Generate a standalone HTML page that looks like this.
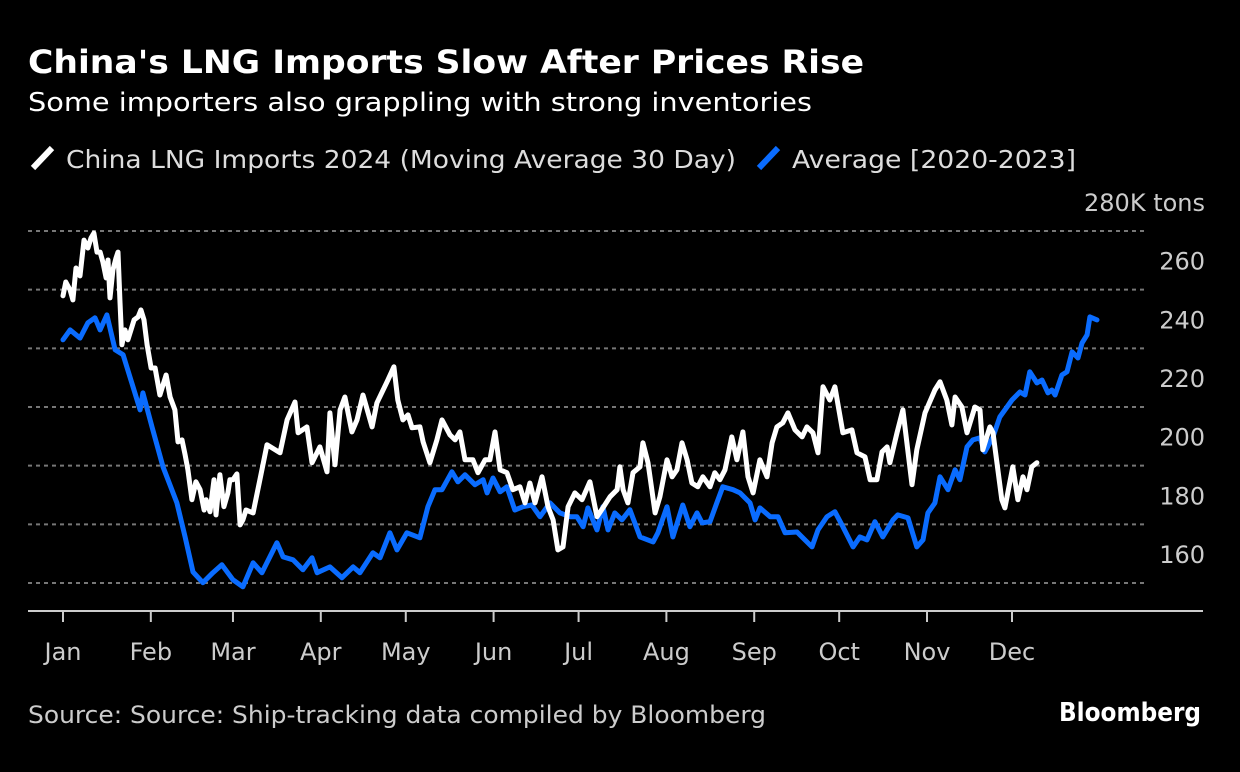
<!DOCTYPE html>
<html><head><meta charset="utf-8">
<style>
html,body{margin:0;padding:0;background:#000;}
svg{display:block;}
text{font-family:"DejaVu Sans","Liberation Sans",sans-serif;}
</style></head>
<body>
<svg id="chart" width="1240" height="772" viewBox="0 0 1240 772" xmlns="http://www.w3.org/2000/svg">
<rect x="0" y="0" width="1240" height="772" fill="#000"/>
<text x="28" y="73" fill="#fff" font-size="32" font-weight="bold" textLength="836" lengthAdjust="spacingAndGlyphs">China's LNG Imports Slow After Prices Rise</text>
<text x="28" y="111" fill="#fff" font-size="26" textLength="784" lengthAdjust="spacingAndGlyphs">Some importers also grappling with strong inventories</text>
<g>
<g>
<line x1="33" y1="168" x2="52" y2="148" stroke="#fff" stroke-width="6"/>
<text x="66" y="168" fill="#ddd" font-size="25" textLength="670" lengthAdjust="spacingAndGlyphs">China LNG Imports 2024 (Moving Average 30 Day)</text>
</g>
<g>
<line x1="759" y1="168" x2="778" y2="148" stroke="#0a6cff" stroke-width="6"/>
<text x="792" y="168" fill="#ddd" font-size="25" textLength="284" lengthAdjust="spacingAndGlyphs">Average [2020-2023]</text>
</g>
</g>
<g id="grid"></g>
<g id="ylabels"></g>
<g id="xaxis"></g>
<g id="series"></g>
<text x="28" y="723" fill="#ccc" font-size="24" textLength="738" lengthAdjust="spacingAndGlyphs">Source: Source: Ship-tracking data compiled by Bloomberg</text>
<text x="1201" y="721" fill="#fff" font-size="26" font-weight="bold" text-anchor="end" font-family="Liberation Sans, sans-serif" textLength="142" lengthAdjust="spacingAndGlyphs">Bloomberg</text>
</svg>
<script>
const yTicks = [160, 180, 200, 220, 240, 260, 280];
const yTickLabels = ["160", "180", "200", "220", "240", "260", "280K tons"];
const months = ["Jan","Feb","Mar","Apr","May","Jun","Jul","Aug","Sep","Oct","Nov","Dec"];
const monthStartDays = [0,31,60,91,121,152,182,213,244,274,305,335];
const days2024 = [0,1,2.5,3.5,4.6,6,7.4,8.8,9.9,10.9,12,13.1,14.1,15.2,15.9,16.6,17.6,18.7,19.4,20.1,20.8,21.9,22.9,24,25.1,26.5,27.5,28.6,29.7,31.1,32.5,34.2,35.3,36.4,37.8,39.5,40.6,42,43.1,44.1,45.5,46.9,48.4,49.8,50.5,51.9,53.3,54,55.4,56.8,58.2,58.9,60,61.4,62.5,63.5,64.6,67.1,69.5,72,76.6,79.1,81.9,83,86.1,87.9,90.7,93.2,94.2,96,97.8,99.5,102,103.8,105.9,109.1,110.8,113,114.7,116.8,118.2,120,121.8,123.2,126,127.1,129.5,132,133.8,136.6,138.4,140.1,141.9,144.7,146.5,149,150.7,152.5,154.3,156.7,158.8,161.3,163.1,164.8,166.6,169.1,171.2,173,174.7,176.5,178.3,180.7,183.2,186,188.5,190.6,193.1,195.6,196.6,197.7,199.4,201.2,203.7,204.7,206.5,209,210.7,213.2,215,216.7,218.5,220.3,222,224.1,225.9,228.4,230.1,231.9,233.7,236.1,237.9,240,241.8,243.6,246,248.5,250.3,252,254.1,255.9,258.4,260.9,262.6,264.7,266.5,268.3,270.7,272.5,275.3,278.5,280.3,283.1,284.9,287.3,289.1,290.9,291.9,294.4,296.5,299.7,301.4,304.3,307.8,309.6,312,313.8,314.9,317.3,319.1,321.9,323.7,324.7,327.2,328.3,331.4,332.5,335.3,337.1,338.9,340.3,342,343.8];
const values2024 = [257.9,262.6,259.9,256.5,267.4,264.7,276.9,274.2,277.6,279.3,272.8,272.8,269.4,264,270.1,257.2,266.7,270.8,272.8,256.5,241.2,246.3,242.9,246.3,249.7,250.7,253.1,249.7,241.2,233.3,233.3,224.1,227.5,230.9,223.4,219,208.1,208.8,203.7,198.6,188.4,194.5,191.8,184.9,188.4,184.3,195.2,183.2,196.9,186,190.7,195.2,195.2,197.2,179.8,181.5,184.9,183.9,195.2,207.1,204.4,215.6,221.7,211.2,213.2,201,206.4,197.9,218,200.3,219,223.4,211.5,215.6,224.1,213.2,221.4,225.8,229.2,233.7,222.4,215.6,217.3,212.9,213.2,208.1,201,208.8,215.6,210.5,208.8,211.5,202,202,197.6,202,202,211.5,198.6,197.6,191.8,192.8,187.3,194.1,187.3,196.2,186,181.5,171.3,172.3,186,190.7,188.4,194.5,182.6,185.6,189.4,191.8,199.6,191.8,187.3,197.6,199.6,207.8,201,183.9,189.4,202,196.2,198.6,207.8,202,194.1,192.8,196.2,192.8,197.6,195.2,198.6,209.8,202,211.5,196.2,190.7,202,196.2,207.8,213.2,214.6,218,212.2,209.8,213.2,211.2,204.4,226.9,222.4,226.9,211.2,212.2,204.4,203,195.2,195.2,204.7,206.4,201,211.2,219,193.5,205.4,218,225.8,228.6,222.4,213.9,223.4,220,211.2,220,219,205.4,213.2,211.2,188.4,185.6,199.6,188.4,196.2,191.8,199.6,201];
const daysAvg = [0,2.5,6,8.8,11.3,13.1,15.5,18.4,21.2,24.7,27.2,28.2,31.4,35.3,40.2,43.1,45.9,49.4,52.9,56.1,60,63.5,67.1,70.2,75.5,77.7,81.2,84.7,87.9,89.7,94.2,98.5,102.4,104.8,109.4,111.9,115.4,117.9,121.4,126,128.8,131.3,133.8,137.3,139.4,141.9,145.4,148.3,149.7,151.8,154.3,156.7,159.5,162.4,165.5,168.4,171.9,175.4,179,181.4,183.6,185.3,188.5,190.6,192.4,194.8,197.3,200.1,203.7,208.3,210,213.2,215.3,218.8,221.3,223.8,225.6,228.4,230.8,232.9,236.5,239,242.5,244.3,246,249.6,252.4,254.9,259.1,261.9,264.4,266.5,269.7,272.5,275.3,278.9,281.3,283.8,286.6,289.4,293,294.7,298.3,301.4,303.6,305.3,307.8,309.6,312.4,314.9,316.6,319.1,321.2,323.7,325.4,328.3,330.7,335,337.8,339.6,341.3,343.8,345.6,347.7,349.1,350.2,352.6,354.4,356.2,358.3,359.7,361.5,362.5,365];
const valuesAvg = [242.9,246.3,243.5,248.7,250.4,246.3,251.4,239.5,237.8,226.9,219,224.8,213.2,199.6,187.3,175.7,163.8,160.1,163.5,166.2,161.1,158.7,166.9,163.5,173.7,168.9,167.9,164.5,168.6,163.5,165.5,161.8,165.5,163.5,170.3,168.6,177.1,171.3,177.1,175.4,186,191.8,191.8,197.9,194.5,196.9,193.5,195.2,190.7,195.8,191.1,192.8,184.9,186,186.6,182.6,187.3,183.9,182.6,182.6,179.2,185.6,178.1,186,178.1,183.9,181.5,185,175.7,174,177.1,186,175.7,186.6,179.2,183.9,180.5,180.9,187.3,192.8,191.8,190.7,187.3,181.5,185.6,182.6,182.6,177.1,177.4,174.7,172.3,178.1,182.6,184.3,179.2,172.3,175.7,174.7,180.9,175.7,181.5,183.2,182.2,172.3,174.7,183.9,187.3,196.2,191.8,198.6,195.2,206.4,208.8,209.5,204.7,209.8,216.6,222.4,225.1,224.1,232,228.2,229.2,224.8,225.8,224.1,230.9,232,238.8,236.7,241.8,244.6,250.7,249.7];

const NS = "http://www.w3.org/2000/svg";
function xScale(d){ return 63 + d * (1012 - 63) / 335; }
function yScale(v){ return 583 - (v - 160) * (583 - 231) / 120; }

const grid = document.getElementById('grid');
const ylab = document.getElementById('ylabels');
yTicks.forEach((t, i) => {
  const ln = document.createElementNS(NS, 'line');
  
  
  ln.setAttribute('x1', 28); ln.setAttribute('x2', 1146);
  ln.setAttribute('y1', yScale(t)); ln.setAttribute('y2', yScale(t));
  ln.setAttribute('stroke', '#777'); ln.setAttribute('stroke-width', '2');
  ln.setAttribute('stroke-dasharray', '4 4');
  grid.appendChild(ln);
  const tx = document.createElementNS(NS, 'text');
  
  
  tx.setAttribute('x', 1205); tx.setAttribute('y', yScale(t) - 20);
  tx.setAttribute('text-anchor', 'end'); tx.setAttribute('fill', '#ccc');
  tx.setAttribute('font-size', '24');
  tx.textContent = yTickLabels[i];
  ylab.appendChild(tx);
});

const xa = document.getElementById('xaxis');
const base = document.createElementNS(NS, 'line');


base.setAttribute('x1', 28); base.setAttribute('x2', 1203);
base.setAttribute('y1', 611); base.setAttribute('y2', 611);
base.setAttribute('stroke', '#ccc'); base.setAttribute('stroke-width', '2');
xa.appendChild(base);
months.forEach((m, i) => {
  const x = xScale(monthStartDays[i]);
  const tk = document.createElementNS(NS, 'line');
  
  
  tk.setAttribute('x1', x); tk.setAttribute('x2', x);
  tk.setAttribute('y1', 611); tk.setAttribute('y2', 622);
  tk.setAttribute('stroke', '#ccc'); tk.setAttribute('stroke-width', '2');
  xa.appendChild(tk);
  const tx = document.createElementNS(NS, 'text');
  
  
  tx.setAttribute('x', x); tx.setAttribute('y', 660);
  tx.setAttribute('text-anchor', 'middle'); tx.setAttribute('fill', '#ccc');
  tx.setAttribute('font-size', '24');
  tx.textContent = m;
  xa.appendChild(tx);
});

function drawLine(days, vals, color, name){
  let d = '';
  days.forEach((dd, i) => { d += (i ? 'L' : 'M') + xScale(dd).toFixed(1) + ',' + yScale(vals[i]).toFixed(1); });
  const p = document.createElementNS(NS, 'path');
  
  
  p.setAttribute('d', d);
  p.setAttribute('fill', 'none'); p.setAttribute('stroke', color);
  p.setAttribute('stroke-width', '5'); p.setAttribute('stroke-linejoin', 'round');
  p.setAttribute('stroke-linecap', 'round');
  document.getElementById('series').appendChild(p);
}
drawLine(daysAvg, valuesAvg, '#0a6cff', 'average-2020-2023-line');
drawLine(days2024, values2024, '#ffffff', 'imports-2024-line');
</script>
</body></html>
